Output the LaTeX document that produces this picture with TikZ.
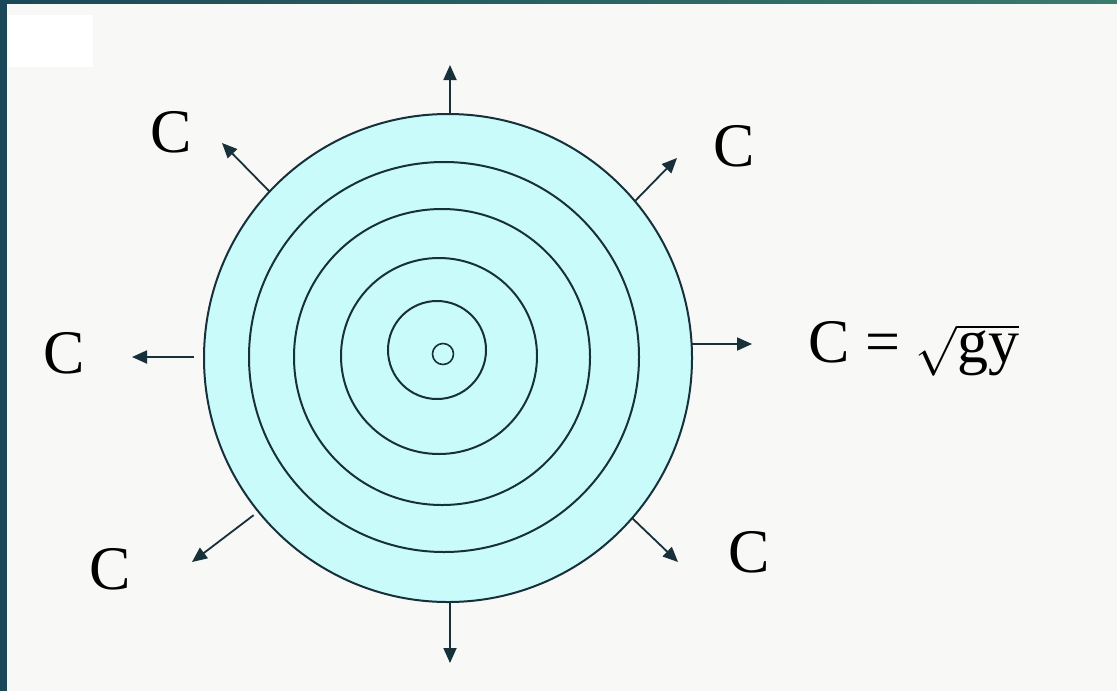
\documentclass[tikz,border=0pt]{standalone}
\usepackage{fontspec}
\setmainfont{Liberation Serif}
\usetikzlibrary{arrows.meta,positioning,calc}
\definecolor{paper}{HTML}{F8F8F6}
\definecolor{frameL}{HTML}{1B4858}
\definecolor{frameR}{HTML}{397C6C}
\definecolor{water}{HTML}{CAFBFB}
\definecolor{ink}{HTML}{17303A}
\tikzset{ring/.style={circle,draw=ink,line width=1pt,inner sep=0pt,outer sep=0pt},
 wavearrow/.style={-{Triangle[length=7.5pt,width=6.5pt]},draw=ink,line width=0.9pt},
 celer/.style={anchor=base,inner sep=0pt,text=black,font=\fontsize{31}{36}\selectfont}}

\begin{document}
\begin{tikzpicture}[x=0.5pt,y=-0.5pt]
\useasboundingbox (0,0) rectangle (1117,691);
\fill[paper] (0,0) rectangle (1117,691);
\shade[left color=frameL,right color=frameR] (0,0) rectangle (1117,3);
\fill[frameL] (0,0) rectangle (7,691);
\fill[white] (8,15) rectangle (93,67);
% concentric crests
\node[ring,fill=water,minimum size=244pt] (wave) at (448,358) {};
\node[ring,minimum size=195pt] (ring4) at (444,357) {};
\node[ring,minimum size=148pt] (ring3) at (442,357) {};
\node[ring,minimum size=98pt] (ring2) at (439,356) {};
\node[ring,minimum size=49pt] (ring1) at (437,350) {};
\node[ring,minimum size=10.5pt,line width=0.8pt] (hub) at (443,354) {};
% arrow ends
\coordinate (tipN) at (450,65);
\coordinate (tipS) at (450,663);
\coordinate (tipE) at (752,344);
\coordinate (tipW) at (132,357);
\coordinate (tipNW) at (222,143);
\coordinate (tipNE) at (677,158);
\coordinate (tipSW) at (192,562);
\coordinate (tipSE) at (678,562);
\draw[wavearrow] (wave.north -| tipN)--(tipN);
\draw[wavearrow] (wave.south -| tipS)--(tipS);
\draw[wavearrow] (wave.east |- tipE)--(tipE);
\draw[wavearrow,shorten <=5pt] (wave.west |- tipW)--(tipW);
\draw[wavearrow] (wave.137)--(tipNW);
\draw[wavearrow] (wave.40)--(tipNE);
\draw[wavearrow,shorten <=3pt] (wave.219)--(tipSW);
\draw[wavearrow] (wave.-41)--(tipSE);
% celerity labels
\node[celer] (cNW) at (171,152) {C};
\node[celer] (cNE) at (734,166) {C};
\node[celer] (cW) at (64,373) {C};
\node[celer] (cSW) at (110,589) {C};
\node[celer] (cSE) at (749,572) {C};
\node[celer,anchor=base west] (law) at (808,362) {C = $\sqrt{\mbox{gy}}$};
\end{tikzpicture}
\end{document}
